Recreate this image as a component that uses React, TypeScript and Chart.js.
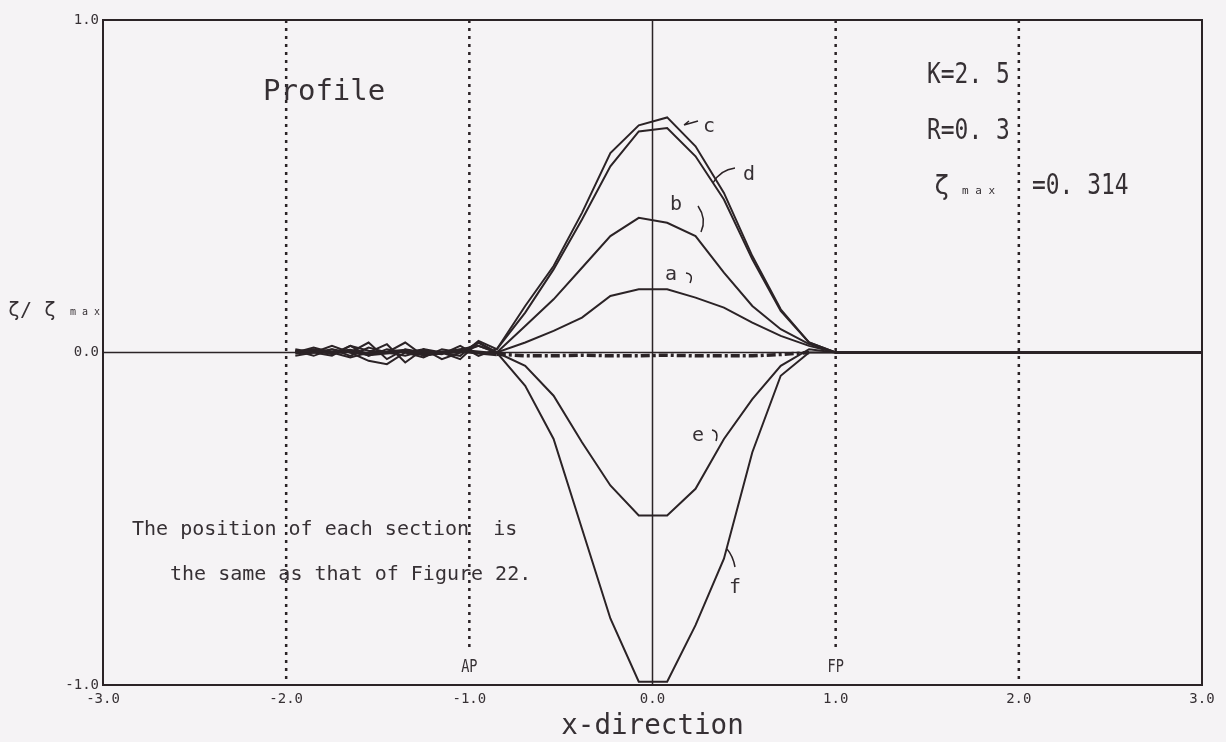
import React, { useEffect, useRef } from "react";
import { Chart, registerables } from "chart.js";

Chart.register(...registerables);

// Longitudinal stations: wake region behind AP, hull stations, and flat tail ahead of FP
const WAKE_X = [-1.95, -1.85, -1.75, -1.65, -1.55, -1.45, -1.35, -1.25, -1.15, -1.05, -0.95];
const HULL_X = [-0.85, -0.695, -0.54, -0.385, -0.23, -0.075, 0.08, 0.235, 0.39, 0.545, 0.7, 0.855];
const TAIL_X = [1.0, 2.0, 3.0];

// zeta / zeta_max profiles for sections a–f
const A_WAKE = [0.01, 0.0, 0.01, -0.01, 0.015, 0.0, -0.01, 0.005, 0.0, 0.01, 0.02];
const A_HULL = [0.0, 0.03, 0.065, 0.105, 0.17, 0.19, 0.19, 0.165, 0.135, 0.09, 0.05, 0.02];
const B_WAKE = [0.0, 0.01, -0.005, 0.02, -0.01, 0.01, 0.0, -0.015, 0.01, 0.0, 0.03];
const B_HULL = [0.0, 0.08, 0.16, 0.255, 0.35, 0.405, 0.39, 0.35, 0.24, 0.14, 0.07, 0.025];
const C_WAKE = [0.005, -0.01, 0.01, 0.0, 0.03, -0.02, 0.01, 0.0, -0.005, 0.02, -0.01];
const C_HULL = [0.01, 0.14, 0.26, 0.42, 0.6, 0.683, 0.707, 0.62, 0.48, 0.29, 0.13, 0.03];
const D_WAKE = [0.0, 0.015, 0.0, -0.015, 0.0, 0.025, -0.03, 0.01, 0.0, -0.01, 0.035];
const D_HULL = [0.01, 0.12, 0.25, 0.4, 0.56, 0.665, 0.675, 0.59, 0.46, 0.28, 0.125, 0.03];
const E_WAKE = [-0.01, 0.0, 0.02, 0.0, -0.025, -0.035, 0.0, 0.01, -0.02, 0.0, 0.02];
const E_HULL = [0.0, -0.04, -0.13, -0.27, -0.4, -0.49, -0.49, -0.41, -0.26, -0.14, -0.04, 0.01];
const F_WAKE = [0.005, 0.0, -0.01, 0.02, 0.005, 0.0, 0.03, -0.01, 0.0, -0.02, 0.03];
const F_HULL = [0.0, -0.1, -0.26, -0.53, -0.8, -0.99, -0.99, -0.82, -0.62, -0.3, -0.07, 0.0];
// section near the waterline, almost flat
const G_WAKE = [0.0, 0.005, 0.0, 0.005, -0.005, 0.0, 0.005, -0.005, 0.0, 0.005, 0.0];
const G_HULL = [-0.005, -0.01, -0.01, -0.008, -0.01, -0.01, -0.008, -0.01, -0.01, -0.01, -0.006, 0.0];
const TAIL_Y = [0, 0, 0];

const X_TICKS = [-3, -2, -1, 0, 1, 2, 3];
const Y_TICKS = [-1, 0, 1];
const DOTTED_X = [-2, -1, 1, 2];

const INK = "#2b2326";
const TEXT = "#363034";
const MONO = '"DejaVu Sans Mono", monospace';

type Pt = { x: number; y: number };

function series(wake: number[] | null, hull: number[] | null, tail: number[] | null): Pt[] {
  const pts: Pt[] = [];
  if (wake) WAKE_X.forEach((x, i) => pts.push({ x, y: wake[i] }));
  if (hull) HULL_X.forEach((x, i) => pts.push({ x, y: hull[i] }));
  if (tail) TAIL_X.forEach((x, i) => pts.push({ x, y: tail[i] }));
  return pts;
}

function text(
  ctx: CanvasRenderingContext2D,
  s: string,
  x: number,
  y: number,
  size: number,
  sx = 1,
  align: CanvasTextAlign = "left"
) {
  ctx.save();
  ctx.font = `${size}px ${MONO}`;
  ctx.fillStyle = TEXT;
  ctx.textBaseline = "alphabetic";
  ctx.textAlign = align;
  ctx.translate(x, y);
  ctx.scale(sx, 1);
  ctx.fillText(s, 0, 0);
  ctx.restore();
}

const annotations = {
  id: "annotations",
  afterDraw(chart: any) {
    const { ctx, chartArea, scales } = chart;
    const xs = scales.x;
    ctx.save();
    // top and right frame
    ctx.strokeStyle = INK;
    ctx.lineWidth = 2;
    ctx.beginPath();
    ctx.moveTo(chartArea.left, chartArea.top);
    ctx.lineTo(chartArea.right, chartArea.top);
    ctx.lineTo(chartArea.right, chartArea.bottom);
    ctx.stroke();

    // panel texts
    text(ctx, "Profile", 263, 100, 29);
    text(ctx, "K=2. 5", 927, 83, 29, 0.79);
    text(ctx, "R=0. 3", 927, 139, 29, 0.79);
    text(ctx, "ζ", 934, 194, 26);
    text(ctx, "m a x", 962, 194, 11);
    text(ctx, "=0. 314", 1032, 194, 29, 0.79);
    text(ctx, "The position of each section  is", 132, 535, 20);
    text(ctx, "the same as that of Figure 22.", 170, 580, 20);

    // ship ends
    text(ctx, "AP", xs.getPixelForValue(-1), 672, 17, 0.8, "center");
    text(ctx, "FP", xs.getPixelForValue(1), 672, 17, 0.8, "center");

    // axis titles
    text(ctx, "x-direction", xs.getPixelForValue(0), 734, 29, 0.95, "center");
    text(ctx, "ζ/", 8, 316, 20);
    text(ctx, "ζ", 44, 316, 20);
    text(ctx, "m a x", 70, 315, 10);

    // section labels
    text(ctx, "c", 703, 132, 20);
    text(ctx, "d", 743, 180, 20);
    text(ctx, "b", 670, 210, 20);
    text(ctx, "a", 665, 280, 20);
    text(ctx, "e", 692, 441, 20);
    text(ctx, "f", 729, 593, 20);

    // label leaders
    ctx.strokeStyle = INK;
    ctx.lineWidth = 1.5;
    ctx.beginPath();
    ctx.moveTo(684, 125);
    ctx.lineTo(698, 121);
    ctx.moveTo(684, 125);
    ctx.lineTo(689, 121);
    ctx.moveTo(713, 183);
    ctx.quadraticCurveTo(720, 170, 735, 168);
    ctx.moveTo(698, 206);
    ctx.quadraticCurveTo(707, 219, 701, 232);
    ctx.moveTo(686, 273);
    ctx.quadraticCurveTo(694, 274, 690, 283);
    ctx.moveTo(712, 430);
    ctx.quadraticCurveTo(719, 431, 716, 441);
    ctx.moveTo(727, 549);
    ctx.quadraticCurveTo(733, 556, 735, 567);
    ctx.stroke();
    ctx.restore();
  },
};

export default function App() {
  const ref = useRef<HTMLCanvasElement | null>(null);

  useEffect(() => {
    const canvas = ref.current;
    if (!canvas) return;

    const curve = (data: Pt[]) => ({
      data,
      borderColor: INK,
      borderWidth: 2,
      pointRadius: 0,
      tension: 0,
      fill: false,
    });

    const guides = [
      ...DOTTED_X.map((x) => ({
        data: [
          { x, y: 1 },
          { x, y: Math.abs(x) === 1 ? -0.9 : -1 },
        ],
        borderColor: INK,
        borderWidth: 2.5,
        borderDash: [3, 5],
        pointRadius: 0,
        fill: false,
      })),
      {
        data: [
          { x: 0, y: 1 },
          { x: 0, y: -1 },
        ],
        borderColor: INK,
        borderWidth: 1.5,
        pointRadius: 0,
        fill: false,
      },
      {
        data: [
          { x: -3, y: 0 },
          { x: 3, y: 0 },
        ],
        borderColor: INK,
        borderWidth: 1.5,
        pointRadius: 0,
        fill: false,
      },
    ];

    const chart = new Chart(canvas, {
      type: "line",
      data: {
        datasets: [
          curve(series(A_WAKE, A_HULL, TAIL_Y)),
          curve(series(B_WAKE, B_HULL, TAIL_Y)),
          curve(series(C_WAKE, C_HULL, TAIL_Y)),
          curve(series(D_WAKE, D_HULL, TAIL_Y)),
          curve(series(E_WAKE, E_HULL, TAIL_Y)),
          curve(series(F_WAKE, F_HULL, TAIL_Y)),
          {
            data: series(G_WAKE, null, null).concat([{ x: HULL_X[0], y: G_HULL[0] }]),
            borderColor: INK,
            borderWidth: 4,
            pointRadius: 0,
            fill: false,
          },
          {
            data: series(null, G_HULL, null),
            borderColor: INK,
            borderWidth: 3.5,
            borderDash: [9, 3, 3, 3],
            pointRadius: 0,
            fill: false,
          },
          ...guides,
        ] as any,
      },
      options: {
        responsive: false,
        animation: false,
        layout: { padding: { top: 20, right: 24, left: 0, bottom: 0 } },
        plugins: {
          legend: { display: false },
          tooltip: { enabled: false },
        },
        scales: {
          x: {
            type: "linear",
            min: -3,
            max: 3,
            afterBuildTicks: (s: any) => {
              s.ticks = X_TICKS.map((value) => ({ value }));
            },
            afterFit: (s: any) => {
              s.height = 57;
            },
            grid: { display: false, drawTicks: false },
            border: { display: true, color: INK, width: 2 },
            ticks: {
              padding: 6,
              color: TEXT,
              font: { family: MONO, size: 14 },
              maxRotation: 0,
              callback: (v: any) => Number(v).toFixed(1),
            },
          },
          y: {
            type: "linear",
            min: -1,
            max: 1,
            afterBuildTicks: (s: any) => {
              s.ticks = Y_TICKS.map((value) => ({ value }));
            },
            afterFit: (s: any) => {
              s.width = 103;
            },
            grid: { display: false, drawTicks: false },
            border: { display: true, color: INK, width: 2 },
            ticks: {
              padding: 4,
              color: TEXT,
              font: { family: MONO, size: 14 },
              callback: (v: any) => Number(v).toFixed(1),
            },
          },
        },
      },
      plugins: [annotations],
    });

    return () => chart.destroy();
  }, []);

  return (
    <div
      style={{
        position: "absolute",
        left: 0,
        top: 0,
        width: 1226,
        height: 742,
        background: "#f5f3f5",
      }}
    >
      <canvas ref={ref} width={1226} height={742} style={{ display: "block" }} />
    </div>
  );
}
